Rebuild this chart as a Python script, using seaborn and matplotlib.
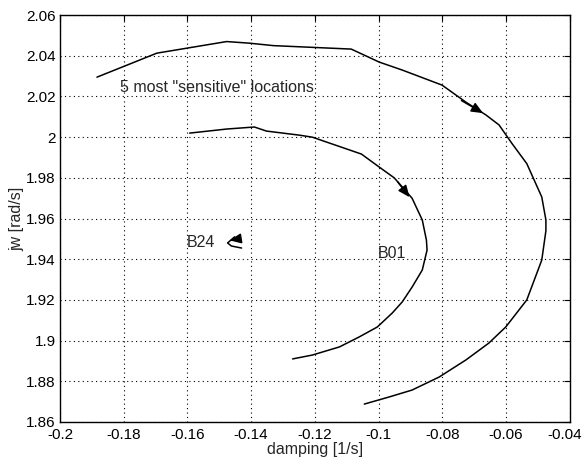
import matplotlib
matplotlib.use("Agg")
import matplotlib.pyplot as plt
import matplotlib.transforms as mtransforms
import seaborn as sns
import pandas as pd
import numpy as np

# Outer trajectory
outer_x = [-0.1884, -0.1696, -0.1477, -0.1405, -0.1330, -0.1086, -0.0998, -0.0926,
           -0.0801, -0.0726, -0.0663, -0.0622, -0.0582, -0.0535, -0.0488, -0.0475,
           -0.0475, -0.0488, -0.0535, -0.0601, -0.0654, -0.0726, -0.0810, -0.0895,
           -0.0967, -0.1045]
outer_y = [2.0295, 2.0413, 2.0470, 2.0462, 2.0450, 2.0433, 2.0369, 2.0330,
           2.0256, 2.0172, 2.0109, 2.0060, 1.9970, 1.9870, 1.9706, 1.9593,
           1.9540, 1.9396, 1.9200, 1.9067, 1.8988, 1.8905, 1.8821, 1.8757,
           1.8723, 1.8688]

# B01 trajectory
b01_x = [-0.1593, -0.1477, -0.1390, -0.1352, -0.1249, -0.1208, -0.1054, -0.0998,
         -0.0951, -0.0895, -0.0863, -0.0850, -0.0848, -0.0863, -0.0895, -0.0926,
         -0.0957, -0.1004, -0.1061, -0.1123, -0.1208, -0.1270]
b01_y = [2.0020, 2.0040, 2.0050, 2.0030, 2.0010, 2.0000, 1.9917, 1.9853,
         1.9800, 1.9700, 1.9593, 1.9494, 1.9445, 1.9347, 1.9263, 1.9190,
         1.9136, 1.9067, 1.9018, 1.8969, 1.8929, 1.8910]

# B24 trajectory
b24_x = [-0.1452, -0.1474, -0.1462, -0.1430]
b24_y = [1.9510, 1.9480, 1.9465, 1.9455]

# arrow positions (tail, head)
arrow_outer = [(-0.0740, 2.0180), (-0.0672, 2.0118)]
arrow_b01 = [(-0.0940, 1.9780), (-0.0903, 1.9705)]
arrow_b24 = [(-0.1440, 1.9500), (-0.1468, 1.9493)]

labels = {"title": '5 most "sensitive" locations', "b24": "B24", "b01": "B01"}
xticks = [-0.2, -0.18, -0.16, -0.14, -0.12, -0.1, -0.08, -0.06, -0.04]
xticklabels = ["-0.2", "-0.18", "-0.16", "-0.14", "-0.12", "-0.1", "-0.08", "-0.06", "-0.04"]
yticks = [1.86, 1.88, 1.9, 1.92, 1.94, 1.96, 1.98, 2.0, 2.02, 2.04, 2.06]
yticklabels = ["1.86", "1.88", "1.9", "1.92", "1.94", "1.96", "1.98", "2", "2.02", "2.04", "2.06"]

sns.set_style("white")
plt.rcParams["font.family"] = ["Liberation Sans", "DejaVu Sans"]

FS = 11.5
TFS = 11

fig = plt.figure(figsize=(5.84, 4.65), dpi=100)
ax = fig.add_axes([0.1027, 0.0925, 0.873, 0.875])

frames = [
    pd.DataFrame({"x": outer_x, "y": outer_y, "s": "outer"}),
    pd.DataFrame({"x": b01_x, "y": b01_y, "s": "b01"}),
    pd.DataFrame({"x": b24_x, "y": b24_y, "s": "b24"}),
]
for df in frames:
    sns.lineplot(data=df, x="x", y="y", sort=False, estimator=None, color="black",
                 linewidth=1.1, ax=ax, legend=False)

for tail, head in [arrow_outer, arrow_b01, arrow_b24]:
    ax.annotate("", xy=head, xytext=tail,
                arrowprops=dict(arrowstyle="-|>,head_length=0.7,head_width=0.3",
                                color="black", lw=1.1, shrinkA=0, shrinkB=0))

ax.text(-0.1812, 2.0246, labels["title"], fontsize=FS, va="center", ha="left")
ax.text(-0.1602, 1.9480, labels["b24"], fontsize=FS, va="center", ha="left")
ax.text(-0.1004, 1.9430, labels["b01"], fontsize=FS, va="center", ha="left")

ax.set_xlim(-0.2, -0.04)
ax.set_ylim(1.86, 2.06)
ax.set_xticks(xticks)
ax.set_xticklabels(xticklabels)
ax.set_yticks(yticks)
ax.set_yticklabels(yticklabels)
ax.tick_params(direction="in", length=4, width=0.8, top=True, right=True,
               labelsize=TFS, colors="black")
ax.tick_params(axis="x", pad=4)
ax.tick_params(axis="y", pad=3)
ax.grid(True, color="black", linestyle=(0, (1, 3)), linewidth=0.8)
for sp in ax.spines.values():
    sp.set_visible(True)
    sp.set_color("black")
    sp.set_linewidth(1.0)
ax.set_xlabel("damping [1/s]", fontsize=FS, labelpad=0)
ax.set_ylabel("jw [rad/s]", fontsize=FS, labelpad=1)

# keep the last x tick label inside the figure
last = ax.get_xticklabels()[-1]
last.set_transform(last.get_transform() +
                   mtransforms.ScaledTranslation(-5 / 100, 0, fig.dpi_scale_trans))

fig.savefig("out.png", dpi=100)
